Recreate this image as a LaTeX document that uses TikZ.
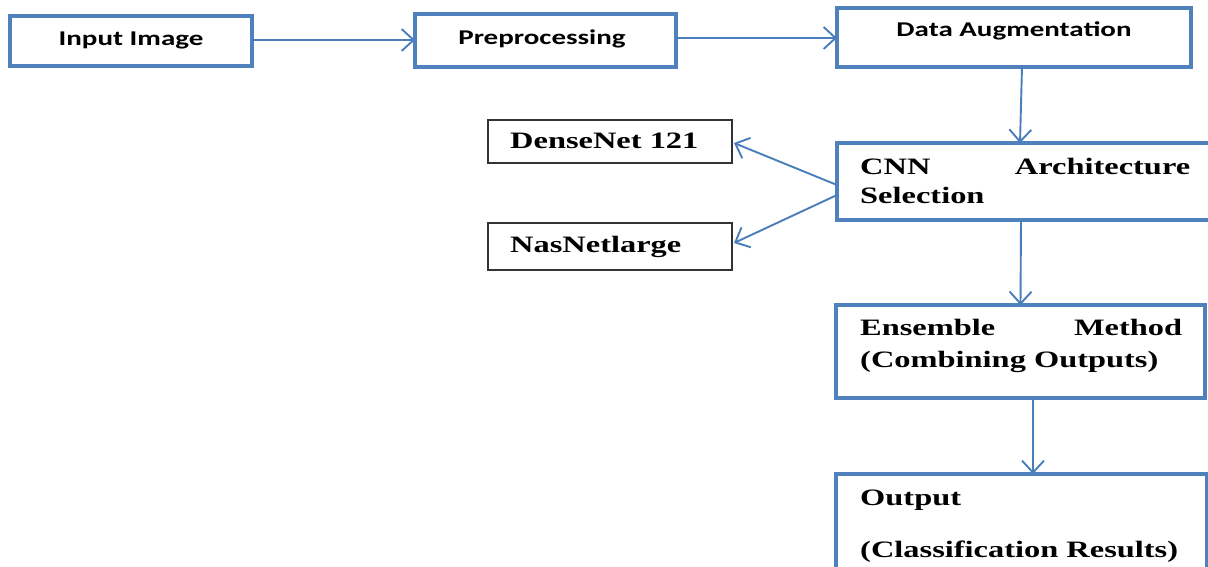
\documentclass[tikz,border=0pt]{standalone}
\usepackage{fontspec}
\usetikzlibrary{arrows.meta}
\newfontfamily\calfont[FakeStretch=1.38]{Carlito}
\newfontfamily\timesfont[FakeStretch=1.38]{Liberation Serif}
\definecolor{boxblue}{HTML}{4F81BD}
\definecolor{arrowblue}{HTML}{4A7EBB}
\tikzset{
  flowbox/.style={draw=boxblue, line width=4pt, fill=white, rectangle, inner sep=0pt, outer sep=0pt},
  netbox/.style={draw=black!80, line width=1.3pt, fill=white, rectangle, inner sep=0pt, outer sep=0pt},
  flowarrow/.style={draw=arrowblue, line width=1.9pt, -{Straight Barb[length=12pt,width=22pt,line width=1.9pt]}},
  caltext/.style={font=\calfont\bfseries\fontsize{21}{25}\selectfont, inner sep=0pt, anchor=base},
  serftext/.style={font=\timesfont\bfseries\fontsize{23.5}{28}\selectfont, inner sep=0pt, anchor=base west},
}
\begin{document}
\begin{tikzpicture}[x=1pt,y=-1pt]
\useasboundingbox (0,0) rectangle (1208,567);
\begin{scope}
\clip (0,0) rectangle (1208,567);

% main pipeline boxes
\node[flowbox, minimum width=242pt, minimum height=50pt] (inp) at (131,41) {};
\node[flowbox, minimum width=261pt, minimum height=53pt] (pre) at (545.5,40.5) {};
\node[flowbox, minimum width=354pt, minimum height=59pt] (aug) at (1014,37.5) {};
\node[flowbox, minimum width=378pt, minimum height=77pt] (cnn) at (1026,181.5) {};
\node[flowbox, minimum width=369pt, minimum height=93pt] (ens) at (1020.5,351.5) {};
\node[flowbox, minimum width=371pt, minimum height=110pt] (out) at (1021.5,529) {};

% candidate networks
\node[netbox, minimum width=244pt, minimum height=43pt] (dense) at (610,141.5) {};
\node[netbox, minimum width=244pt, minimum height=47pt] (nas) at (610,246.5) {};

% labels
\node[caltext] (inpT) at (131,46) {Input Image};
\node[caltext] (preT) at (542,44.5) {Preprocessing};
\node[caltext] (augT) at (1014,37) {Data Augmentation};

\node[serftext] (denseT) at (510,149) {DenseNet 121};
\node[serftext] (nasT) at (510,252) {NasNetlarge};

\node[serftext] (cnnT1) at (860,175) {\hbox to 330pt{CNN\hfill Architecture}};
\node[serftext] (cnnT2) at (860,204) {Selection};

\node[serftext] (ensT1) at (860,335) {\hbox to 322pt{Ensemble\hfill Method}};
\node[serftext] (ensT2) at (860,367) {(Combining Outputs)};

\node[serftext] (outT1) at (860,505) {Output};
\node[serftext] (outT2) at (860,557) {(Classification Results)};

% connectors
\draw[flowarrow] ([yshift=1pt]inp.east) -- ([yshift=1pt]inp.east -| pre.west);
\draw[flowarrow] ([yshift=2.5pt]pre.east) -- ([yshift=2.5pt]pre.east -| aug.west);
\draw[flowarrow] ([xshift=8pt]aug.south) -- ([xshift=-6pt]cnn.north);
\draw[flowarrow] ([xshift=-5pt]cnn.south) -- ([xshift=0pt]ens.north);
\draw[flowarrow] ([xshift=12.5pt]ens.south) -- ([xshift=11.5pt]out.north);
\draw[flowarrow] ([yshift=-3.5pt]cnn.west) -- ([xshift=2pt,yshift=-1.5pt]dense.east);
\draw[flowarrow] ([yshift=-13.5pt]cnn.west) -- ([xshift=2pt,yshift=3.5pt]nas.east);
\end{scope}
\end{tikzpicture}
\end{document}
